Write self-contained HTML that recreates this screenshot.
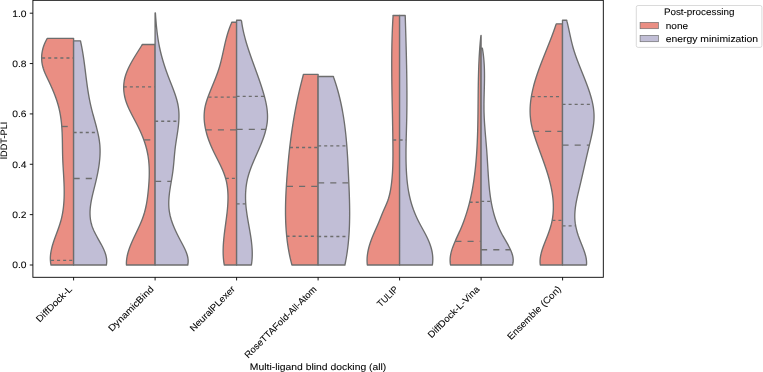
<!DOCTYPE html>
<html><head><meta charset="utf-8"><style>
html,body{margin:0;padding:0;background:#fff;}
svg{display:block;}
</style></head><body>
<svg width="763" height="372" viewBox="0 0 763 372">
<rect x="0" y="0" width="763" height="372" fill="#fff"/>
<path d="M73.60,38.30 L47.30,38.30 L46.76,39.30 L46.22,40.30 L45.71,41.30 L45.23,42.30 L44.78,43.30 L44.36,44.30 L43.97,45.30 L43.61,46.30 L43.28,47.30 L42.99,48.30 L42.72,49.30 L42.48,50.30 L42.27,51.30 L42.09,52.30 L41.94,53.30 L41.82,54.30 L41.73,55.30 L41.67,56.30 L41.64,57.30 L41.64,58.30 L41.67,59.30 L41.73,60.30 L41.81,61.30 L41.93,62.30 L42.08,63.30 L42.25,64.30 L42.45,65.30 L42.69,66.30 L42.94,67.30 L43.23,68.30 L43.55,69.30 L43.89,70.30 L44.26,71.30 L44.65,72.30 L45.07,73.30 L45.50,74.30 L45.96,75.30 L46.42,76.30 L46.89,77.30 L47.37,78.30 L47.85,79.30 L48.33,80.30 L48.81,81.30 L49.28,82.30 L49.75,83.30 L50.21,84.30 L50.67,85.30 L51.12,86.30 L51.57,87.30 L52.01,88.30 L52.44,89.30 L52.86,90.30 L53.28,91.30 L53.69,92.30 L54.10,93.30 L54.49,94.30 L54.88,95.30 L55.25,96.30 L55.62,97.30 L55.98,98.30 L56.33,99.30 L56.67,100.30 L57.00,101.30 L57.32,102.30 L57.63,103.30 L57.92,104.30 L58.21,105.30 L58.48,106.30 L58.75,107.30 L59.00,108.30 L59.24,109.30 L59.46,110.30 L59.68,111.30 L59.88,112.30 L60.07,113.30 L60.26,114.30 L60.43,115.30 L60.59,116.30 L60.74,117.30 L60.89,118.30 L61.02,119.30 L61.15,120.30 L61.27,121.30 L61.38,122.30 L61.48,123.30 L61.58,124.30 L61.66,125.30 L61.75,126.30 L61.82,127.30 L61.89,128.30 L61.95,129.30 L62.01,130.30 L62.06,131.30 L62.11,132.30 L62.16,133.30 L62.20,134.30 L62.23,135.30 L62.26,136.30 L62.29,137.30 L62.32,138.30 L62.34,139.30 L62.36,140.30 L62.38,141.30 L62.40,142.30 L62.42,143.30 L62.43,144.30 L62.45,145.30 L62.46,146.30 L62.47,147.30 L62.49,148.30 L62.50,149.30 L62.52,150.30 L62.54,151.30 L62.55,152.30 L62.57,153.30 L62.60,154.30 L62.62,155.30 L62.65,156.30 L62.68,157.30 L62.71,158.30 L62.75,159.30 L62.79,160.30 L62.84,161.30 L62.88,162.30 L62.93,163.30 L62.98,164.30 L63.04,165.30 L63.09,166.30 L63.15,167.30 L63.21,168.30 L63.26,169.30 L63.32,170.30 L63.38,171.30 L63.44,172.30 L63.50,173.30 L63.56,174.30 L63.62,175.30 L63.67,176.30 L63.73,177.30 L63.78,178.30 L63.83,179.30 L63.88,180.30 L63.93,181.30 L63.97,182.30 L64.02,183.30 L64.05,184.30 L64.09,185.30 L64.12,186.30 L64.15,187.30 L64.17,188.30 L64.19,189.30 L64.20,190.30 L64.21,191.30 L64.21,192.30 L64.21,193.30 L64.20,194.30 L64.18,195.30 L64.16,196.30 L64.13,197.30 L64.10,198.30 L64.05,199.30 L64.00,200.30 L63.95,201.30 L63.88,202.30 L63.81,203.30 L63.72,204.30 L63.63,205.30 L63.53,206.30 L63.42,207.30 L63.30,208.30 L63.17,209.30 L63.02,210.30 L62.87,211.30 L62.71,212.30 L62.54,213.30 L62.35,214.30 L62.16,215.30 L61.95,216.30 L61.73,217.30 L61.49,218.30 L61.25,219.30 L60.99,220.30 L60.72,221.30 L60.43,222.30 L60.13,223.30 L59.82,224.30 L59.50,225.30 L59.16,226.30 L58.82,227.30 L58.47,228.30 L58.12,229.30 L57.75,230.30 L57.39,231.30 L57.02,232.30 L56.65,233.30 L56.28,234.30 L55.91,235.30 L55.54,236.30 L55.17,237.30 L54.81,238.30 L54.45,239.30 L54.11,240.30 L53.76,241.30 L53.43,242.30 L53.11,243.30 L52.80,244.30 L52.50,245.30 L52.22,246.30 L51.95,247.30 L51.70,248.30 L51.47,249.30 L51.25,250.30 L51.06,251.30 L50.88,252.30 L50.73,253.30 L50.60,254.30 L50.50,255.30 L50.42,256.30 L50.37,257.30 L50.35,258.30 L50.36,259.30 L50.40,260.30 L50.47,261.30 L50.57,262.30 L50.71,263.30 L50.89,264.30 L51.03,265.00 L73.60,265.00 Z" fill="#EA8E83" stroke="#6d6d6d" stroke-width="1.35" stroke-linejoin="round"/>
<line x1="42.11" y1="58.00" x2="73.60" y2="58.00" stroke="#6d6d6d" stroke-width="1.35" stroke-dasharray="3.04,3.04"/>
<line x1="61.66" y1="126.50" x2="73.60" y2="126.50" stroke="#6d6d6d" stroke-width="1.35" stroke-dasharray="6.08,6.08"/>
<line x1="50.98" y1="260.40" x2="73.60" y2="260.40" stroke="#6d6d6d" stroke-width="1.35" stroke-dasharray="3.04,3.04"/>

<path d="M73.60,40.80 L80.40,40.80 L80.68,41.80 L80.90,42.80 L81.11,43.80 L81.32,44.80 L81.52,45.80 L81.72,46.80 L81.91,47.80 L82.09,48.80 L82.27,49.80 L82.45,50.80 L82.62,51.80 L82.79,52.80 L82.95,53.80 L83.11,54.80 L83.27,55.80 L83.42,56.80 L83.57,57.80 L83.71,58.80 L83.86,59.80 L84.00,60.80 L84.14,61.80 L84.27,62.80 L84.41,63.80 L84.54,64.80 L84.67,65.80 L84.80,66.80 L84.92,67.80 L85.05,68.80 L85.18,69.80 L85.30,70.80 L85.43,71.80 L85.55,72.80 L85.67,73.80 L85.80,74.80 L85.92,75.80 L86.05,76.80 L86.17,77.80 L86.30,78.80 L86.43,79.80 L86.56,80.80 L86.69,81.80 L86.82,82.80 L86.96,83.80 L87.09,84.80 L87.23,85.80 L87.38,86.80 L87.52,87.80 L87.67,88.80 L87.82,89.80 L87.97,90.80 L88.13,91.80 L88.29,92.80 L88.46,93.80 L88.63,94.80 L88.80,95.80 L88.98,96.80 L89.16,97.80 L89.35,98.80 L89.55,99.80 L89.74,100.80 L89.95,101.80 L90.16,102.80 L90.38,103.80 L90.60,104.80 L90.83,105.80 L91.06,106.80 L91.30,107.80 L91.54,108.80 L91.79,109.80 L92.05,110.80 L92.31,111.80 L92.57,112.80 L92.83,113.80 L93.10,114.80 L93.37,115.80 L93.64,116.80 L93.92,117.80 L94.19,118.80 L94.47,119.80 L94.75,120.80 L95.02,121.80 L95.30,122.80 L95.57,123.80 L95.84,124.80 L96.11,125.80 L96.38,126.80 L96.64,127.80 L96.89,128.80 L97.14,129.80 L97.39,130.80 L97.63,131.80 L97.86,132.80 L98.08,133.80 L98.29,134.80 L98.50,135.80 L98.69,136.80 L98.88,137.80 L99.05,138.80 L99.21,139.80 L99.36,140.80 L99.49,141.80 L99.61,142.80 L99.72,143.80 L99.81,144.80 L99.89,145.80 L99.95,146.80 L100.00,147.80 L100.04,148.80 L100.07,149.80 L100.08,150.80 L100.08,151.80 L100.07,152.80 L100.04,153.80 L100.01,154.80 L99.96,155.80 L99.90,156.80 L99.83,157.80 L99.76,158.80 L99.67,159.80 L99.57,160.80 L99.46,161.80 L99.34,162.80 L99.22,163.80 L99.08,164.80 L98.94,165.80 L98.79,166.80 L98.63,167.80 L98.47,168.80 L98.29,169.80 L98.11,170.80 L97.93,171.80 L97.73,172.80 L97.53,173.80 L97.33,174.80 L97.12,175.80 L96.90,176.80 L96.68,177.80 L96.46,178.80 L96.23,179.80 L96.00,180.80 L95.76,181.80 L95.52,182.80 L95.28,183.80 L95.03,184.80 L94.78,185.80 L94.53,186.80 L94.28,187.80 L94.03,188.80 L93.78,189.80 L93.53,190.80 L93.28,191.80 L93.04,192.80 L92.79,193.80 L92.56,194.80 L92.33,195.80 L92.10,196.80 L91.89,197.80 L91.68,198.80 L91.47,199.80 L91.28,200.80 L91.10,201.80 L90.93,202.80 L90.77,203.80 L90.63,204.80 L90.50,205.80 L90.38,206.80 L90.28,207.80 L90.19,208.80 L90.12,209.80 L90.07,210.80 L90.03,211.80 L90.02,212.80 L90.02,213.80 L90.05,214.80 L90.10,215.80 L90.16,216.80 L90.26,217.80 L90.37,218.80 L90.52,219.80 L90.68,220.80 L90.88,221.80 L91.10,222.80 L91.35,223.80 L91.63,224.80 L91.93,225.80 L92.27,226.80 L92.64,227.80 L93.04,228.80 L93.46,229.80 L93.91,230.80 L94.39,231.80 L94.88,232.80 L95.39,233.80 L95.91,234.80 L96.45,235.80 L96.99,236.80 L97.55,237.80 L98.11,238.80 L98.67,239.80 L99.23,240.80 L99.79,241.80 L100.34,242.80 L100.89,243.80 L101.43,244.80 L101.95,245.80 L102.47,246.80 L102.96,247.80 L103.43,248.80 L103.89,249.80 L104.32,250.80 L104.72,251.80 L105.09,252.80 L105.43,253.80 L105.74,254.80 L106.01,255.80 L106.24,256.80 L106.43,257.80 L106.57,258.80 L106.67,259.80 L106.73,260.80 L106.72,261.80 L106.67,262.80 L106.56,263.80 L106.39,264.80 L106.35,265.00 L73.60,265.00 Z" fill="#C1BED6" stroke="#6d6d6d" stroke-width="1.35" stroke-linejoin="round"/>
<line x1="73.60" y1="132.50" x2="97.46" y2="132.50" stroke="#6d6d6d" stroke-width="1.35" stroke-dasharray="3.04,3.04"/>
<line x1="73.60" y1="178.50" x2="96.55" y2="178.50" stroke="#6d6d6d" stroke-width="1.35" stroke-dasharray="6.08,6.08"/>

<path d="M155.10,44.50 L142.40,44.50 L141.72,45.50 L141.10,46.50 L140.47,47.50 L139.84,48.50 L139.20,49.50 L138.57,50.50 L137.94,51.50 L137.31,52.50 L136.68,53.50 L136.06,54.50 L135.44,55.50 L134.82,56.50 L134.22,57.50 L133.62,58.50 L133.03,59.50 L132.45,60.50 L131.88,61.50 L131.32,62.50 L130.77,63.50 L130.24,64.50 L129.72,65.50 L129.22,66.50 L128.73,67.50 L128.26,68.50 L127.81,69.50 L127.38,70.50 L126.97,71.50 L126.58,72.50 L126.21,73.50 L125.86,74.50 L125.54,75.50 L125.24,76.50 L124.97,77.50 L124.72,78.50 L124.50,79.50 L124.31,80.50 L124.15,81.50 L124.01,82.50 L123.89,83.50 L123.80,84.50 L123.74,85.50 L123.70,86.50 L123.69,87.50 L123.70,88.50 L123.74,89.50 L123.80,90.50 L123.88,91.50 L123.99,92.50 L124.13,93.50 L124.28,94.50 L124.46,95.50 L124.67,96.50 L124.90,97.50 L125.15,98.50 L125.42,99.50 L125.71,100.50 L126.03,101.50 L126.37,102.50 L126.73,103.50 L127.11,104.50 L127.51,105.50 L127.93,106.50 L128.37,107.50 L128.81,108.50 L129.28,109.50 L129.75,110.50 L130.24,111.50 L130.74,112.50 L131.24,113.50 L131.75,114.50 L132.27,115.50 L132.79,116.50 L133.32,117.50 L133.85,118.50 L134.38,119.50 L134.91,120.50 L135.44,121.50 L135.96,122.50 L136.48,123.50 L137.00,124.50 L137.51,125.50 L138.01,126.50 L138.50,127.50 L138.98,128.50 L139.46,129.50 L139.92,130.50 L140.38,131.50 L140.82,132.50 L141.26,133.50 L141.69,134.50 L142.10,135.50 L142.51,136.50 L142.90,137.50 L143.28,138.50 L143.66,139.50 L144.02,140.50 L144.37,141.50 L144.70,142.50 L145.03,143.50 L145.34,144.50 L145.65,145.50 L145.94,146.50 L146.21,147.50 L146.48,148.50 L146.73,149.50 L146.97,150.50 L147.19,151.50 L147.40,152.50 L147.60,153.50 L147.79,154.50 L147.96,155.50 L148.13,156.50 L148.28,157.50 L148.41,158.50 L148.54,159.50 L148.66,160.50 L148.76,161.50 L148.86,162.50 L148.94,163.50 L149.02,164.50 L149.08,165.50 L149.14,166.50 L149.19,167.50 L149.22,168.50 L149.25,169.50 L149.27,170.50 L149.28,171.50 L149.29,172.50 L149.28,173.50 L149.27,174.50 L149.25,175.50 L149.23,176.50 L149.20,177.50 L149.16,178.50 L149.11,179.50 L149.06,180.50 L149.00,181.50 L148.94,182.50 L148.87,183.50 L148.80,184.50 L148.72,185.50 L148.64,186.50 L148.56,187.50 L148.47,188.50 L148.37,189.50 L148.28,190.50 L148.17,191.50 L148.07,192.50 L147.96,193.50 L147.85,194.50 L147.73,195.50 L147.61,196.50 L147.48,197.50 L147.34,198.50 L147.20,199.50 L147.04,200.50 L146.89,201.50 L146.72,202.50 L146.54,203.50 L146.36,204.50 L146.16,205.50 L145.95,206.50 L145.74,207.50 L145.51,208.50 L145.27,209.50 L145.02,210.50 L144.75,211.50 L144.48,212.50 L144.18,213.50 L143.88,214.50 L143.56,215.50 L143.22,216.50 L142.87,217.50 L142.51,218.50 L142.13,219.50 L141.74,220.50 L141.33,221.50 L140.91,222.50 L140.48,223.50 L140.05,224.50 L139.60,225.50 L139.15,226.50 L138.69,227.50 L138.22,228.50 L137.75,229.50 L137.28,230.50 L136.80,231.50 L136.32,232.50 L135.85,233.50 L135.37,234.50 L134.89,235.50 L134.42,236.50 L133.95,237.50 L133.49,238.50 L133.03,239.50 L132.58,240.50 L132.13,241.50 L131.70,242.50 L131.27,243.50 L130.86,244.50 L130.46,245.50 L130.07,246.50 L129.69,247.50 L129.33,248.50 L128.99,249.50 L128.66,250.50 L128.35,251.50 L128.06,252.50 L127.79,253.50 L127.54,254.50 L127.31,255.50 L127.10,256.50 L126.92,257.50 L126.77,258.50 L126.64,259.50 L126.53,260.50 L126.46,261.50 L126.41,262.50 L126.40,263.50 L126.42,264.50 L126.44,265.00 L155.10,265.00 Z" fill="#EA8E83" stroke="#6d6d6d" stroke-width="1.35" stroke-linejoin="round"/>
<line x1="123.76" y1="86.80" x2="155.10" y2="86.80" stroke="#6d6d6d" stroke-width="1.35" stroke-dasharray="3.04,3.04"/>
<line x1="144.21" y1="139.90" x2="155.10" y2="139.90" stroke="#6d6d6d" stroke-width="1.35" stroke-dasharray="6.08,6.08"/>

<path d="M155.10,13.00 L155.40,13.00 L155.46,14.00 L155.53,15.00 L155.60,16.00 L155.67,17.00 L155.74,18.00 L155.82,19.00 L155.90,20.00 L155.98,21.00 L156.06,22.00 L156.14,23.00 L156.23,24.00 L156.32,25.00 L156.42,26.00 L156.52,27.00 L156.62,28.00 L156.73,29.00 L156.84,30.00 L156.95,31.00 L157.07,32.00 L157.19,33.00 L157.32,34.00 L157.45,35.00 L157.59,36.00 L157.73,37.00 L157.88,38.00 L158.03,39.00 L158.19,40.00 L158.35,41.00 L158.53,42.00 L158.70,43.00 L158.88,44.00 L159.07,45.00 L159.27,46.00 L159.47,47.00 L159.68,48.00 L159.90,49.00 L160.12,50.00 L160.35,51.00 L160.59,52.00 L160.83,53.00 L161.08,54.00 L161.34,55.00 L161.60,56.00 L161.87,57.00 L162.15,58.00 L162.43,59.00 L162.72,60.00 L163.01,61.00 L163.31,62.00 L163.62,63.00 L163.93,64.00 L164.24,65.00 L164.57,66.00 L164.89,67.00 L165.23,68.00 L165.57,69.00 L165.91,70.00 L166.26,71.00 L166.62,72.00 L166.98,73.00 L167.34,74.00 L167.71,75.00 L168.08,76.00 L168.46,77.00 L168.85,78.00 L169.23,79.00 L169.62,80.00 L170.02,81.00 L170.41,82.00 L170.81,83.00 L171.20,84.00 L171.60,85.00 L171.99,86.00 L172.38,87.00 L172.76,88.00 L173.15,89.00 L173.52,90.00 L173.89,91.00 L174.26,92.00 L174.61,93.00 L174.96,94.00 L175.30,95.00 L175.63,96.00 L175.95,97.00 L176.25,98.00 L176.55,99.00 L176.83,100.00 L177.09,101.00 L177.34,102.00 L177.58,103.00 L177.80,104.00 L178.00,105.00 L178.18,106.00 L178.34,107.00 L178.48,108.00 L178.61,109.00 L178.71,110.00 L178.80,111.00 L178.87,112.00 L178.92,113.00 L178.96,114.00 L178.98,115.00 L178.98,116.00 L178.98,117.00 L178.96,118.00 L178.92,119.00 L178.87,120.00 L178.82,121.00 L178.75,122.00 L178.67,123.00 L178.58,124.00 L178.48,125.00 L178.37,126.00 L178.26,127.00 L178.13,128.00 L178.01,129.00 L177.87,130.00 L177.73,131.00 L177.59,132.00 L177.44,133.00 L177.29,134.00 L177.13,135.00 L176.98,136.00 L176.82,137.00 L176.66,138.00 L176.50,139.00 L176.35,140.00 L176.19,141.00 L176.04,142.00 L175.89,143.00 L175.74,144.00 L175.60,145.00 L175.46,146.00 L175.33,147.00 L175.21,148.00 L175.09,149.00 L174.98,150.00 L174.87,151.00 L174.77,152.00 L174.67,153.00 L174.57,154.00 L174.48,155.00 L174.39,156.00 L174.30,157.00 L174.21,158.00 L174.13,159.00 L174.04,160.00 L173.95,161.00 L173.86,162.00 L173.77,163.00 L173.68,164.00 L173.58,165.00 L173.48,166.00 L173.38,167.00 L173.27,168.00 L173.16,169.00 L173.04,170.00 L172.91,171.00 L172.78,172.00 L172.64,173.00 L172.49,174.00 L172.34,175.00 L172.18,176.00 L172.02,177.00 L171.85,178.00 L171.69,179.00 L171.52,180.00 L171.35,181.00 L171.18,182.00 L171.01,183.00 L170.84,184.00 L170.67,185.00 L170.50,186.00 L170.34,187.00 L170.18,188.00 L170.03,189.00 L169.88,190.00 L169.74,191.00 L169.60,192.00 L169.47,193.00 L169.35,194.00 L169.24,195.00 L169.14,196.00 L169.05,197.00 L168.97,198.00 L168.90,199.00 L168.84,200.00 L168.80,201.00 L168.77,202.00 L168.76,203.00 L168.76,204.00 L168.78,205.00 L168.81,206.00 L168.86,207.00 L168.93,208.00 L169.02,209.00 L169.13,210.00 L169.26,211.00 L169.41,212.00 L169.58,213.00 L169.78,214.00 L169.99,215.00 L170.22,216.00 L170.48,217.00 L170.75,218.00 L171.04,219.00 L171.34,220.00 L171.67,221.00 L172.01,222.00 L172.36,223.00 L172.73,224.00 L173.12,225.00 L173.52,226.00 L173.93,227.00 L174.35,228.00 L174.79,229.00 L175.24,230.00 L175.69,231.00 L176.16,232.00 L176.64,233.00 L177.12,234.00 L177.62,235.00 L178.12,236.00 L178.63,237.00 L179.14,238.00 L179.66,239.00 L180.19,240.00 L180.71,241.00 L181.25,242.00 L181.78,243.00 L182.31,244.00 L182.84,245.00 L183.36,246.00 L183.86,247.00 L184.36,248.00 L184.84,249.00 L185.29,250.00 L185.73,251.00 L186.13,252.00 L186.51,253.00 L186.86,254.00 L187.18,255.00 L187.45,256.00 L187.69,257.00 L187.88,258.00 L188.02,259.00 L188.12,260.00 L188.16,261.00 L188.14,262.00 L188.07,263.00 L187.94,264.00 L187.74,265.00 L155.10,265.00 Z" fill="#C1BED6" stroke="#6d6d6d" stroke-width="1.35" stroke-linejoin="round"/>
<line x1="155.10" y1="121.20" x2="178.60" y2="121.20" stroke="#6d6d6d" stroke-width="1.35" stroke-dasharray="3.04,3.04"/>
<line x1="155.10" y1="181.40" x2="170.97" y2="181.40" stroke="#6d6d6d" stroke-width="1.35" stroke-dasharray="6.08,6.08"/>

<path d="M236.60,22.20 L231.70,22.20 L231.41,23.20 L230.98,24.20 L230.57,25.20 L230.17,26.20 L229.79,27.20 L229.42,28.20 L229.06,29.20 L228.71,30.20 L228.38,31.20 L228.06,32.20 L227.75,33.20 L227.45,34.20 L227.16,35.20 L226.88,36.20 L226.61,37.20 L226.34,38.20 L226.08,39.20 L225.83,40.20 L225.58,41.20 L225.34,42.20 L225.11,43.20 L224.88,44.20 L224.65,45.20 L224.43,46.20 L224.20,47.20 L223.98,48.20 L223.77,49.20 L223.55,50.20 L223.33,51.20 L223.11,52.20 L222.89,53.20 L222.67,54.20 L222.45,55.20 L222.22,56.20 L221.99,57.20 L221.75,58.20 L221.52,59.20 L221.27,60.20 L221.02,61.20 L220.77,62.20 L220.50,63.20 L220.23,64.20 L219.95,65.20 L219.66,66.20 L219.37,67.20 L219.06,68.20 L218.74,69.20 L218.41,70.20 L218.07,71.20 L217.73,72.20 L217.37,73.20 L217.01,74.20 L216.63,75.20 L216.25,76.20 L215.87,77.20 L215.48,78.20 L215.09,79.20 L214.69,80.20 L214.28,81.20 L213.88,82.20 L213.47,83.20 L213.06,84.20 L212.65,85.20 L212.24,86.20 L211.83,87.20 L211.43,88.20 L211.02,89.20 L210.62,90.20 L210.22,91.20 L209.82,92.20 L209.43,93.20 L209.04,94.20 L208.66,95.20 L208.28,96.20 L207.92,97.20 L207.56,98.20 L207.21,99.20 L206.88,100.20 L206.56,101.20 L206.26,102.20 L205.97,103.20 L205.70,104.20 L205.45,105.20 L205.23,106.20 L205.02,107.20 L204.84,108.20 L204.68,109.20 L204.54,110.20 L204.42,111.20 L204.33,112.20 L204.25,113.20 L204.19,114.20 L204.16,115.20 L204.14,116.20 L204.14,117.20 L204.16,118.20 L204.20,119.20 L204.26,120.20 L204.34,121.20 L204.43,122.20 L204.54,123.20 L204.67,124.20 L204.81,125.20 L204.97,126.20 L205.15,127.20 L205.34,128.20 L205.55,129.20 L205.78,130.20 L206.02,131.20 L206.27,132.20 L206.54,133.20 L206.82,134.20 L207.11,135.20 L207.42,136.20 L207.74,137.20 L208.08,138.20 L208.42,139.20 L208.78,140.20 L209.15,141.20 L209.54,142.20 L209.93,143.20 L210.33,144.20 L210.75,145.20 L211.17,146.20 L211.61,147.20 L212.05,148.20 L212.50,149.20 L212.97,150.20 L213.44,151.20 L213.92,152.20 L214.41,153.20 L214.90,154.20 L215.40,155.20 L215.90,156.20 L216.40,157.20 L216.91,158.20 L217.42,159.20 L217.92,160.20 L218.43,161.20 L218.93,162.20 L219.42,163.20 L219.92,164.20 L220.40,165.20 L220.88,166.20 L221.34,167.20 L221.80,168.20 L222.25,169.20 L222.68,170.20 L223.10,171.20 L223.50,172.20 L223.89,173.20 L224.26,174.20 L224.61,175.20 L224.95,176.20 L225.26,177.20 L225.55,178.20 L225.83,179.20 L226.08,180.20 L226.32,181.20 L226.54,182.20 L226.74,183.20 L226.92,184.20 L227.09,185.20 L227.24,186.20 L227.38,187.20 L227.50,188.20 L227.61,189.20 L227.70,190.20 L227.78,191.20 L227.85,192.20 L227.91,193.20 L227.95,194.20 L227.98,195.20 L228.00,196.20 L228.01,197.20 L228.01,198.20 L227.99,199.20 L227.97,200.20 L227.94,201.20 L227.90,202.20 L227.86,203.20 L227.80,204.20 L227.74,205.20 L227.67,206.20 L227.59,207.20 L227.51,208.20 L227.42,209.20 L227.32,210.20 L227.22,211.20 L227.12,212.20 L227.01,213.20 L226.89,214.20 L226.77,215.20 L226.65,216.20 L226.53,217.20 L226.40,218.20 L226.27,219.20 L226.14,220.20 L226.00,221.20 L225.87,222.20 L225.73,223.20 L225.60,224.20 L225.46,225.20 L225.33,226.20 L225.19,227.20 L225.06,228.20 L224.92,229.20 L224.79,230.20 L224.67,231.20 L224.54,232.20 L224.42,233.20 L224.30,234.20 L224.18,235.20 L224.07,236.20 L223.96,237.20 L223.86,238.20 L223.76,239.20 L223.67,240.20 L223.59,241.20 L223.51,242.20 L223.43,243.20 L223.37,244.20 L223.31,245.20 L223.26,246.20 L223.22,247.20 L223.19,248.20 L223.16,249.20 L223.15,250.20 L223.14,251.20 L223.15,252.20 L223.16,253.20 L223.19,254.20 L223.23,255.20 L223.28,256.20 L223.34,257.20 L223.41,258.20 L223.50,259.20 L223.60,260.20 L223.71,261.20 L223.84,262.20 L223.98,263.20 L224.14,264.20 L224.27,265.00 L236.60,265.00 Z" fill="#EA8E83" stroke="#6d6d6d" stroke-width="1.35" stroke-linejoin="round"/>
<line x1="208.51" y1="97.15" x2="236.60" y2="97.15" stroke="#6d6d6d" stroke-width="1.35" stroke-dasharray="3.04,3.04"/>
<line x1="205.73" y1="129.90" x2="236.60" y2="129.90" stroke="#6d6d6d" stroke-width="1.35" stroke-dasharray="6.08,6.08"/>
<line x1="225.80" y1="178.40" x2="236.60" y2="178.40" stroke="#6d6d6d" stroke-width="1.35" stroke-dasharray="3.04,3.04"/>

<path d="M236.60,20.20 L240.90,20.20 L241.55,21.20 L241.68,22.20 L241.83,23.20 L241.98,24.20 L242.15,25.20 L242.32,26.20 L242.50,27.20 L242.69,28.20 L242.89,29.20 L243.10,30.20 L243.32,31.20 L243.54,32.20 L243.77,33.20 L244.01,34.20 L244.26,35.20 L244.52,36.20 L244.78,37.20 L245.04,38.20 L245.32,39.20 L245.60,40.20 L245.88,41.20 L246.18,42.20 L246.47,43.20 L246.78,44.20 L247.08,45.20 L247.40,46.20 L247.71,47.20 L248.04,48.20 L248.36,49.20 L248.69,50.20 L249.03,51.20 L249.36,52.20 L249.71,53.20 L250.05,54.20 L250.40,55.20 L250.75,56.20 L251.10,57.20 L251.45,58.20 L251.81,59.20 L252.17,60.20 L252.52,61.20 L252.89,62.20 L253.25,63.20 L253.61,64.20 L253.97,65.20 L254.34,66.20 L254.70,67.20 L255.07,68.20 L255.43,69.20 L255.79,70.20 L256.16,71.20 L256.52,72.20 L256.88,73.20 L257.24,74.20 L257.60,75.20 L257.95,76.20 L258.31,77.20 L258.66,78.20 L259.01,79.20 L259.35,80.20 L259.70,81.20 L260.04,82.20 L260.38,83.20 L260.71,84.20 L261.04,85.20 L261.37,86.20 L261.69,87.20 L262.01,88.20 L262.32,89.20 L262.63,90.20 L262.93,91.20 L263.23,92.20 L263.52,93.20 L263.81,94.20 L264.09,95.20 L264.36,96.20 L264.63,97.20 L264.88,98.20 L265.13,99.20 L265.37,100.20 L265.60,101.20 L265.82,102.20 L266.03,103.20 L266.23,104.20 L266.42,105.20 L266.59,106.20 L266.75,107.20 L266.90,108.20 L267.03,109.20 L267.15,110.20 L267.26,111.20 L267.34,112.20 L267.41,113.20 L267.47,114.20 L267.50,115.20 L267.52,116.20 L267.52,117.20 L267.50,118.20 L267.46,119.20 L267.40,120.20 L267.32,121.20 L267.22,122.20 L267.10,123.20 L266.96,124.20 L266.80,125.20 L266.62,126.20 L266.43,127.20 L266.21,128.20 L265.99,129.20 L265.74,130.20 L265.48,131.20 L265.21,132.20 L264.92,133.20 L264.62,134.20 L264.31,135.20 L263.98,136.20 L263.64,137.20 L263.29,138.20 L262.93,139.20 L262.56,140.20 L262.18,141.20 L261.80,142.20 L261.40,143.20 L261.00,144.20 L260.59,145.20 L260.17,146.20 L259.75,147.20 L259.32,148.20 L258.89,149.20 L258.45,150.20 L258.01,151.20 L257.57,152.20 L257.13,153.20 L256.69,154.20 L256.24,155.20 L255.80,156.20 L255.36,157.20 L254.92,158.20 L254.48,159.20 L254.05,160.20 L253.62,161.20 L253.20,162.20 L252.78,163.20 L252.37,164.20 L251.96,165.20 L251.56,166.20 L251.17,167.20 L250.79,168.20 L250.43,169.20 L250.07,170.20 L249.72,171.20 L249.38,172.20 L249.06,173.20 L248.75,174.20 L248.46,175.20 L248.18,176.20 L247.91,177.20 L247.66,178.20 L247.43,179.20 L247.21,180.20 L247.01,181.20 L246.82,182.20 L246.64,183.20 L246.48,184.20 L246.33,185.20 L246.20,186.20 L246.07,187.20 L245.97,188.20 L245.87,189.20 L245.79,190.20 L245.72,191.20 L245.66,192.20 L245.61,193.20 L245.57,194.20 L245.55,195.20 L245.54,196.20 L245.54,197.20 L245.54,198.20 L245.56,199.20 L245.59,200.20 L245.63,201.20 L245.68,202.20 L245.74,203.20 L245.81,204.20 L245.88,205.20 L245.97,206.20 L246.06,207.20 L246.16,208.20 L246.27,209.20 L246.39,210.20 L246.52,211.20 L246.65,212.20 L246.79,213.20 L246.93,214.20 L247.08,215.20 L247.24,216.20 L247.40,217.20 L247.56,218.20 L247.73,219.20 L247.90,220.20 L248.07,221.20 L248.24,222.20 L248.42,223.20 L248.60,224.20 L248.78,225.20 L248.96,226.20 L249.14,227.20 L249.31,228.20 L249.49,229.20 L249.67,230.20 L249.84,231.20 L250.01,232.20 L250.18,233.20 L250.35,234.20 L250.51,235.20 L250.67,236.20 L250.82,237.20 L250.97,238.20 L251.11,239.20 L251.25,240.20 L251.38,241.20 L251.50,242.20 L251.61,243.20 L251.72,244.20 L251.82,245.20 L251.91,246.20 L251.99,247.20 L252.06,248.20 L252.12,249.20 L252.17,250.20 L252.21,251.20 L252.24,252.20 L252.25,253.20 L252.25,254.20 L252.24,255.20 L252.22,256.20 L252.18,257.20 L252.13,258.20 L252.06,259.20 L251.98,260.20 L251.88,261.20 L251.77,262.20 L251.64,263.20 L251.49,264.20 L251.36,265.00 L236.60,265.00 Z" fill="#C1BED6" stroke="#6d6d6d" stroke-width="1.35" stroke-linejoin="round"/>
<line x1="236.60" y1="96.30" x2="264.09" y2="96.30" stroke="#6d6d6d" stroke-width="1.35" stroke-dasharray="3.04,3.04"/>
<line x1="236.60" y1="129.30" x2="266.07" y2="129.30" stroke="#6d6d6d" stroke-width="1.35" stroke-dasharray="6.08,6.08"/>
<line x1="236.60" y1="203.90" x2="246.06" y2="203.90" stroke="#6d6d6d" stroke-width="1.35" stroke-dasharray="3.04,3.04"/>

<path d="M318.10,74.30 L303.50,74.30 L303.21,75.30 L302.94,76.30 L302.68,77.30 L302.41,78.30 L302.15,79.30 L301.89,80.30 L301.63,81.30 L301.38,82.30 L301.13,83.30 L300.88,84.30 L300.63,85.30 L300.39,86.30 L300.15,87.30 L299.91,88.30 L299.67,89.30 L299.44,90.30 L299.21,91.30 L298.98,92.30 L298.75,93.30 L298.53,94.30 L298.30,95.30 L298.09,96.30 L297.87,97.30 L297.65,98.30 L297.44,99.30 L297.23,100.30 L297.02,101.30 L296.82,102.30 L296.62,103.30 L296.42,104.30 L296.22,105.30 L296.02,106.30 L295.83,107.30 L295.63,108.30 L295.45,109.30 L295.26,110.30 L295.07,111.30 L294.89,112.30 L294.71,113.30 L294.53,114.30 L294.35,115.30 L294.18,116.30 L294.01,117.30 L293.84,118.30 L293.67,119.30 L293.50,120.30 L293.34,121.30 L293.18,122.30 L293.02,123.30 L292.86,124.30 L292.70,125.30 L292.55,126.30 L292.39,127.30 L292.24,128.30 L292.10,129.30 L291.95,130.30 L291.81,131.30 L291.66,132.30 L291.52,133.30 L291.38,134.30 L291.25,135.30 L291.11,136.30 L290.98,137.30 L290.84,138.30 L290.71,139.30 L290.59,140.30 L290.46,141.30 L290.34,142.30 L290.21,143.30 L290.09,144.30 L289.97,145.30 L289.85,146.30 L289.74,147.30 L289.62,148.30 L289.51,149.30 L289.40,150.30 L289.29,151.30 L289.18,152.30 L289.07,153.30 L288.97,154.30 L288.86,155.30 L288.76,156.30 L288.66,157.30 L288.56,158.30 L288.47,159.30 L288.37,160.30 L288.28,161.30 L288.18,162.30 L288.09,163.30 L288.00,164.30 L287.91,165.30 L287.82,166.30 L287.74,167.30 L287.65,168.30 L287.57,169.30 L287.49,170.30 L287.41,171.30 L287.33,172.30 L287.25,173.30 L287.17,174.30 L287.10,175.30 L287.02,176.30 L286.95,177.30 L286.88,178.30 L286.81,179.30 L286.74,180.30 L286.67,181.30 L286.60,182.30 L286.54,183.30 L286.47,184.30 L286.41,185.30 L286.35,186.30 L286.29,187.30 L286.23,188.30 L286.17,189.30 L286.12,190.30 L286.06,191.30 L286.01,192.30 L285.96,193.30 L285.92,194.30 L285.87,195.30 L285.83,196.30 L285.79,197.30 L285.75,198.30 L285.72,199.30 L285.68,200.30 L285.65,201.30 L285.63,202.30 L285.60,203.30 L285.58,204.30 L285.56,205.30 L285.54,206.30 L285.53,207.30 L285.52,208.30 L285.51,209.30 L285.51,210.30 L285.50,211.30 L285.51,212.30 L285.51,213.30 L285.52,214.30 L285.53,215.30 L285.55,216.30 L285.57,217.30 L285.59,218.30 L285.62,219.30 L285.65,220.30 L285.68,221.30 L285.72,222.30 L285.76,223.30 L285.81,224.30 L285.86,225.30 L285.91,226.30 L285.97,227.30 L286.03,228.30 L286.10,229.30 L286.17,230.30 L286.25,231.30 L286.33,232.30 L286.42,233.30 L286.51,234.30 L286.60,235.30 L286.70,236.30 L286.81,237.30 L286.92,238.30 L287.03,239.30 L287.15,240.30 L287.28,241.30 L287.41,242.30 L287.55,243.30 L287.69,244.30 L287.83,245.30 L287.99,246.30 L288.15,247.30 L288.31,248.30 L288.48,249.30 L288.65,250.30 L288.84,251.30 L289.02,252.30 L289.22,253.30 L289.42,254.30 L289.62,255.30 L289.83,256.30 L290.05,257.30 L290.28,258.30 L290.51,259.30 L290.74,260.30 L290.99,261.30 L291.24,262.30 L291.49,263.30 L291.76,264.30 L291.95,265.00 L318.10,265.00 Z" fill="#EA8E83" stroke="#6d6d6d" stroke-width="1.35" stroke-linejoin="round"/>
<line x1="289.91" y1="147.50" x2="318.10" y2="147.50" stroke="#6d6d6d" stroke-width="1.35" stroke-dasharray="3.04,3.04"/>
<line x1="286.92" y1="186.30" x2="318.10" y2="186.30" stroke="#6d6d6d" stroke-width="1.35" stroke-dasharray="6.08,6.08"/>
<line x1="286.47" y1="236.20" x2="318.10" y2="236.20" stroke="#6d6d6d" stroke-width="1.35" stroke-dasharray="3.04,3.04"/>

<path d="M318.10,76.50 L333.40,76.50 L333.68,77.50 L334.03,78.50 L334.37,79.50 L334.71,80.50 L335.04,81.50 L335.37,82.50 L335.69,83.50 L336.01,84.50 L336.32,85.50 L336.62,86.50 L336.92,87.50 L337.21,88.50 L337.50,89.50 L337.78,90.50 L338.06,91.50 L338.33,92.50 L338.59,93.50 L338.86,94.50 L339.11,95.50 L339.36,96.50 L339.61,97.50 L339.85,98.50 L340.09,99.50 L340.32,100.50 L340.55,101.50 L340.77,102.50 L340.99,103.50 L341.20,104.50 L341.41,105.50 L341.61,106.50 L341.81,107.50 L342.01,108.50 L342.20,109.50 L342.39,110.50 L342.57,111.50 L342.75,112.50 L342.92,113.50 L343.09,114.50 L343.26,115.50 L343.43,116.50 L343.59,117.50 L343.74,118.50 L343.89,119.50 L344.04,120.50 L344.19,121.50 L344.33,122.50 L344.47,123.50 L344.60,124.50 L344.74,125.50 L344.86,126.50 L344.99,127.50 L345.11,128.50 L345.23,129.50 L345.35,130.50 L345.46,131.50 L345.57,132.50 L345.68,133.50 L345.79,134.50 L345.89,135.50 L345.99,136.50 L346.09,137.50 L346.18,138.50 L346.28,139.50 L346.37,140.50 L346.45,141.50 L346.54,142.50 L346.62,143.50 L346.70,144.50 L346.78,145.50 L346.86,146.50 L346.94,147.50 L347.01,148.50 L347.08,149.50 L347.15,150.50 L347.22,151.50 L347.29,152.50 L347.35,153.50 L347.42,154.50 L347.48,155.50 L347.54,156.50 L347.60,157.50 L347.66,158.50 L347.71,159.50 L347.77,160.50 L347.82,161.50 L347.88,162.50 L347.93,163.50 L347.98,164.50 L348.03,165.50 L348.08,166.50 L348.13,167.50 L348.18,168.50 L348.23,169.50 L348.27,170.50 L348.32,171.50 L348.37,172.50 L348.41,173.50 L348.46,174.50 L348.51,175.50 L348.55,176.50 L348.60,177.50 L348.64,178.50 L348.69,179.50 L348.73,180.50 L348.78,181.50 L348.82,182.50 L348.86,183.50 L348.91,184.50 L348.95,185.50 L348.99,186.50 L349.03,187.50 L349.07,188.50 L349.11,189.50 L349.15,190.50 L349.19,191.50 L349.23,192.50 L349.26,193.50 L349.30,194.50 L349.33,195.50 L349.36,196.50 L349.39,197.50 L349.42,198.50 L349.45,199.50 L349.48,200.50 L349.50,201.50 L349.52,202.50 L349.55,203.50 L349.57,204.50 L349.58,205.50 L349.60,206.50 L349.61,207.50 L349.63,208.50 L349.64,209.50 L349.64,210.50 L349.65,211.50 L349.65,212.50 L349.65,213.50 L349.65,214.50 L349.65,215.50 L349.64,216.50 L349.63,217.50 L349.62,218.50 L349.60,219.50 L349.58,220.50 L349.56,221.50 L349.54,222.50 L349.51,223.50 L349.48,224.50 L349.45,225.50 L349.41,226.50 L349.37,227.50 L349.33,228.50 L349.28,229.50 L349.24,230.50 L349.18,231.50 L349.12,232.50 L349.06,233.50 L349.00,234.50 L348.93,235.50 L348.86,236.50 L348.78,237.50 L348.70,238.50 L348.62,239.50 L348.53,240.50 L348.44,241.50 L348.34,242.50 L348.24,243.50 L348.14,244.50 L348.03,245.50 L347.91,246.50 L347.79,247.50 L347.67,248.50 L347.54,249.50 L347.41,250.50 L347.27,251.50 L347.13,252.50 L346.98,253.50 L346.82,254.50 L346.67,255.50 L346.50,256.50 L346.33,257.50 L346.16,258.50 L345.98,259.50 L345.80,260.50 L345.61,261.50 L345.41,262.50 L345.21,263.50 L345.00,264.50 L344.90,265.00 L318.10,265.00 Z" fill="#C1BED6" stroke="#6d6d6d" stroke-width="1.35" stroke-linejoin="round"/>
<line x1="318.10" y1="145.90" x2="346.83" y2="145.90" stroke="#6d6d6d" stroke-width="1.35" stroke-dasharray="3.04,3.04"/>
<line x1="318.10" y1="182.90" x2="348.14" y2="182.90" stroke="#6d6d6d" stroke-width="1.35" stroke-dasharray="6.08,6.08"/>
<line x1="318.10" y1="236.50" x2="348.89" y2="236.50" stroke="#6d6d6d" stroke-width="1.35" stroke-dasharray="3.04,3.04"/>

<path d="M399.60,15.50 L393.00,15.50 L393.05,16.50 L392.99,17.50 L392.93,18.50 L392.87,19.50 L392.81,20.50 L392.76,21.50 L392.70,22.50 L392.65,23.50 L392.60,24.50 L392.56,25.50 L392.51,26.50 L392.46,27.50 L392.42,28.50 L392.38,29.50 L392.34,30.50 L392.30,31.50 L392.26,32.50 L392.23,33.50 L392.19,34.50 L392.16,35.50 L392.13,36.50 L392.10,37.50 L392.07,38.50 L392.04,39.50 L392.01,40.50 L391.99,41.50 L391.96,42.50 L391.94,43.50 L391.92,44.50 L391.90,45.50 L391.88,46.50 L391.87,47.50 L391.85,48.50 L391.83,49.50 L391.82,50.50 L391.81,51.50 L391.79,52.50 L391.78,53.50 L391.77,54.50 L391.77,55.50 L391.76,56.50 L391.75,57.50 L391.75,58.50 L391.74,59.50 L391.74,60.50 L391.73,61.50 L391.73,62.50 L391.73,63.50 L391.73,64.50 L391.73,65.50 L391.73,66.50 L391.74,67.50 L391.74,68.50 L391.74,69.50 L391.75,70.50 L391.75,71.50 L391.76,72.50 L391.77,73.50 L391.77,74.50 L391.78,75.50 L391.79,76.50 L391.80,77.50 L391.81,78.50 L391.82,79.50 L391.83,80.50 L391.85,81.50 L391.86,82.50 L391.87,83.50 L391.88,84.50 L391.90,85.50 L391.91,86.50 L391.93,87.50 L391.94,88.50 L391.96,89.50 L391.98,90.50 L391.99,91.50 L392.01,92.50 L392.03,93.50 L392.04,94.50 L392.06,95.50 L392.08,96.50 L392.10,97.50 L392.12,98.50 L392.14,99.50 L392.15,100.50 L392.17,101.50 L392.19,102.50 L392.21,103.50 L392.23,104.50 L392.25,105.50 L392.27,106.50 L392.29,107.50 L392.31,108.50 L392.33,109.50 L392.35,110.50 L392.37,111.50 L392.39,112.50 L392.41,113.50 L392.43,114.50 L392.45,115.50 L392.47,116.50 L392.49,117.50 L392.51,118.50 L392.53,119.50 L392.55,120.50 L392.57,121.50 L392.59,122.50 L392.60,123.50 L392.62,124.50 L392.64,125.50 L392.66,126.50 L392.68,127.50 L392.69,128.50 L392.71,129.50 L392.73,130.50 L392.74,131.50 L392.76,132.50 L392.77,133.50 L392.79,134.50 L392.80,135.50 L392.82,136.50 L392.83,137.50 L392.84,138.50 L392.85,139.50 L392.87,140.50 L392.88,141.50 L392.89,142.50 L392.90,143.50 L392.91,144.50 L392.92,145.50 L392.92,146.50 L392.93,147.50 L392.94,148.50 L392.94,149.50 L392.95,150.50 L392.95,151.50 L392.96,152.50 L392.96,153.50 L392.96,154.50 L392.95,155.50 L392.95,156.50 L392.94,157.50 L392.93,158.50 L392.92,159.50 L392.91,160.50 L392.89,161.50 L392.87,162.50 L392.85,163.50 L392.82,164.50 L392.80,165.50 L392.76,166.50 L392.73,167.50 L392.68,168.50 L392.64,169.50 L392.59,170.50 L392.54,171.50 L392.48,172.50 L392.42,173.50 L392.35,174.50 L392.27,175.50 L392.20,176.50 L392.11,177.50 L392.02,178.50 L391.93,179.50 L391.82,180.50 L391.72,181.50 L391.60,182.50 L391.48,183.50 L391.36,184.50 L391.22,185.50 L391.08,186.50 L390.93,187.50 L390.78,188.50 L390.61,189.50 L390.43,190.50 L390.24,191.50 L390.04,192.50 L389.82,193.50 L389.59,194.50 L389.34,195.50 L389.07,196.50 L388.79,197.50 L388.49,198.50 L388.16,199.50 L387.82,200.50 L387.45,201.50 L387.06,202.50 L386.65,203.50 L386.23,204.50 L385.80,205.50 L385.36,206.50 L384.91,207.50 L384.46,208.50 L384.02,209.50 L383.58,210.50 L383.14,211.50 L382.72,212.50 L382.31,213.50 L381.90,214.50 L381.50,215.50 L381.10,216.50 L380.71,217.50 L380.31,218.50 L379.91,219.50 L379.51,220.50 L379.11,221.50 L378.69,222.50 L378.27,223.50 L377.84,224.50 L377.40,225.50 L376.96,226.50 L376.51,227.50 L376.07,228.50 L375.62,229.50 L375.17,230.50 L374.73,231.50 L374.29,232.50 L373.86,233.50 L373.43,234.50 L373.01,235.50 L372.59,236.50 L372.19,237.50 L371.80,238.50 L371.42,239.50 L371.05,240.50 L370.70,241.50 L370.35,242.50 L370.02,243.50 L369.71,244.50 L369.41,245.50 L369.12,246.50 L368.85,247.50 L368.60,248.50 L368.36,249.50 L368.15,250.50 L367.95,251.50 L367.77,252.50 L367.60,253.50 L367.46,254.50 L367.34,255.50 L367.24,256.50 L367.16,257.50 L367.11,258.50 L367.08,259.50 L367.07,260.50 L367.09,261.50 L367.13,262.50 L367.19,263.50 L367.28,264.50 L367.34,265.00 L399.60,265.00 Z" fill="#EA8E83" stroke="#6d6d6d" stroke-width="1.35" stroke-linejoin="round"/>
<line x1="393.17" y1="140.00" x2="399.60" y2="140.00" stroke="#6d6d6d" stroke-width="1.35" stroke-dasharray="3.04,3.04"/>

<path d="M399.60,15.50 L405.20,15.50 L405.25,16.50 L405.28,17.50 L405.31,18.50 L405.34,19.50 L405.37,20.50 L405.40,21.50 L405.43,22.50 L405.46,23.50 L405.49,24.50 L405.52,25.50 L405.55,26.50 L405.58,27.50 L405.61,28.50 L405.64,29.50 L405.66,30.50 L405.69,31.50 L405.72,32.50 L405.75,33.50 L405.78,34.50 L405.81,35.50 L405.84,36.50 L405.87,37.50 L405.90,38.50 L405.93,39.50 L405.95,40.50 L405.98,41.50 L406.01,42.50 L406.04,43.50 L406.07,44.50 L406.09,45.50 L406.12,46.50 L406.15,47.50 L406.17,48.50 L406.20,49.50 L406.23,50.50 L406.25,51.50 L406.28,52.50 L406.30,53.50 L406.33,54.50 L406.35,55.50 L406.38,56.50 L406.40,57.50 L406.42,58.50 L406.45,59.50 L406.47,60.50 L406.49,61.50 L406.51,62.50 L406.53,63.50 L406.55,64.50 L406.58,65.50 L406.60,66.50 L406.61,67.50 L406.63,68.50 L406.65,69.50 L406.67,70.50 L406.69,71.50 L406.71,72.50 L406.72,73.50 L406.74,74.50 L406.75,75.50 L406.77,76.50 L406.78,77.50 L406.80,78.50 L406.81,79.50 L406.82,80.50 L406.83,81.50 L406.84,82.50 L406.85,83.50 L406.86,84.50 L406.87,85.50 L406.88,86.50 L406.89,87.50 L406.90,88.50 L406.90,89.50 L406.91,90.50 L406.91,91.50 L406.92,92.50 L406.92,93.50 L406.92,94.50 L406.92,95.50 L406.92,96.50 L406.92,97.50 L406.92,98.50 L406.92,99.50 L406.92,100.50 L406.92,101.50 L406.91,102.50 L406.91,103.50 L406.90,104.50 L406.90,105.50 L406.89,106.50 L406.88,107.50 L406.87,108.50 L406.86,109.50 L406.85,110.50 L406.83,111.50 L406.82,112.50 L406.81,113.50 L406.79,114.50 L406.77,115.50 L406.76,116.50 L406.74,117.50 L406.72,118.50 L406.70,119.50 L406.68,120.50 L406.65,121.50 L406.63,122.50 L406.61,123.50 L406.58,124.50 L406.55,125.50 L406.53,126.50 L406.50,127.50 L406.47,128.50 L406.45,129.50 L406.42,130.50 L406.39,131.50 L406.36,132.50 L406.34,133.50 L406.31,134.50 L406.28,135.50 L406.26,136.50 L406.23,137.50 L406.21,138.50 L406.18,139.50 L406.16,140.50 L406.14,141.50 L406.11,142.50 L406.09,143.50 L406.08,144.50 L406.06,145.50 L406.04,146.50 L406.03,147.50 L406.01,148.50 L406.00,149.50 L405.99,150.50 L405.99,151.50 L405.98,152.50 L405.98,153.50 L405.98,154.50 L405.98,155.50 L405.98,156.50 L405.99,157.50 L406.00,158.50 L406.01,159.50 L406.03,160.50 L406.04,161.50 L406.07,162.50 L406.09,163.50 L406.12,164.50 L406.15,165.50 L406.18,166.50 L406.22,167.50 L406.26,168.50 L406.31,169.50 L406.35,170.50 L406.41,171.50 L406.46,172.50 L406.53,173.50 L406.59,174.50 L406.66,175.50 L406.74,176.50 L406.82,177.50 L406.90,178.50 L406.99,179.50 L407.09,180.50 L407.19,181.50 L407.30,182.50 L407.42,183.50 L407.54,184.50 L407.67,185.50 L407.80,186.50 L407.94,187.50 L408.10,188.50 L408.25,189.50 L408.42,190.50 L408.59,191.50 L408.78,192.50 L408.97,193.50 L409.17,194.50 L409.38,195.50 L409.60,196.50 L409.83,197.50 L410.07,198.50 L410.31,199.50 L410.57,200.50 L410.84,201.50 L411.12,202.50 L411.41,203.50 L411.71,204.50 L412.03,205.50 L412.35,206.50 L412.69,207.50 L413.04,208.50 L413.39,209.50 L413.77,210.50 L414.15,211.50 L414.54,212.50 L414.95,213.50 L415.37,214.50 L415.80,215.50 L416.24,216.50 L416.69,217.50 L417.16,218.50 L417.63,219.50 L418.12,220.50 L418.62,221.50 L419.13,222.50 L419.66,223.50 L420.19,224.50 L420.73,225.50 L421.27,226.50 L421.82,227.50 L422.37,228.50 L422.92,229.50 L423.47,230.50 L424.02,231.50 L424.56,232.50 L425.09,233.50 L425.62,234.50 L426.13,235.50 L426.63,236.50 L427.11,237.50 L427.58,238.50 L428.04,239.50 L428.48,240.50 L428.90,241.50 L429.31,242.50 L429.69,243.50 L430.06,244.50 L430.40,245.50 L430.73,246.50 L431.03,247.50 L431.32,248.50 L431.58,249.50 L431.81,250.50 L432.02,251.50 L432.21,252.50 L432.37,253.50 L432.50,254.50 L432.61,255.50 L432.69,256.50 L432.75,257.50 L432.78,258.50 L432.79,259.50 L432.77,260.50 L432.73,261.50 L432.66,262.50 L432.56,263.50 L432.45,264.50 L432.38,265.00 L399.60,265.00 Z" fill="#C1BED6" stroke="#6d6d6d" stroke-width="1.35" stroke-linejoin="round"/>
<line x1="399.60" y1="140.00" x2="406.20" y2="140.00" stroke="#6d6d6d" stroke-width="1.35" stroke-dasharray="3.04,3.04"/>

<path d="M481.10,35.40 L481.00,35.40 L480.83,36.40 L480.72,37.40 L480.62,38.40 L480.52,39.40 L480.43,40.40 L480.33,41.40 L480.24,42.40 L480.16,43.40 L480.07,44.40 L479.99,45.40 L479.91,46.40 L479.83,47.40 L479.76,48.40 L479.68,49.40 L479.61,50.40 L479.54,51.40 L479.48,52.40 L479.42,53.40 L479.35,54.40 L479.29,55.40 L479.24,56.40 L479.18,57.40 L479.13,58.40 L479.08,59.40 L479.03,60.40 L478.98,61.40 L478.94,62.40 L478.89,63.40 L478.85,64.40 L478.81,65.40 L478.77,66.40 L478.74,67.40 L478.70,68.40 L478.67,69.40 L478.63,70.40 L478.60,71.40 L478.57,72.40 L478.54,73.40 L478.52,74.40 L478.49,75.40 L478.47,76.40 L478.44,77.40 L478.42,78.40 L478.40,79.40 L478.38,80.40 L478.36,81.40 L478.34,82.40 L478.32,83.40 L478.31,84.40 L478.29,85.40 L478.28,86.40 L478.26,87.40 L478.25,88.40 L478.24,89.40 L478.22,90.40 L478.21,91.40 L478.20,92.40 L478.19,93.40 L478.18,94.40 L478.17,95.40 L478.16,96.40 L478.15,97.40 L478.14,98.40 L478.13,99.40 L478.12,100.40 L478.11,101.40 L478.10,102.40 L478.09,103.40 L478.08,104.40 L478.07,105.40 L478.06,106.40 L478.05,107.40 L478.04,108.40 L478.03,109.40 L478.02,110.40 L478.01,111.40 L478.00,112.40 L477.99,113.40 L477.98,114.40 L477.96,115.40 L477.95,116.40 L477.94,117.40 L477.92,118.40 L477.91,119.40 L477.89,120.40 L477.87,121.40 L477.86,122.40 L477.84,123.40 L477.82,124.40 L477.80,125.40 L477.78,126.40 L477.75,127.40 L477.73,128.40 L477.71,129.40 L477.68,130.40 L477.65,131.40 L477.62,132.40 L477.59,133.40 L477.56,134.40 L477.53,135.40 L477.49,136.40 L477.46,137.40 L477.42,138.40 L477.38,139.40 L477.34,140.40 L477.30,141.40 L477.26,142.40 L477.21,143.40 L477.16,144.40 L477.11,145.40 L477.06,146.40 L477.01,147.40 L476.95,148.40 L476.89,149.40 L476.83,150.40 L476.77,151.40 L476.71,152.40 L476.64,153.40 L476.57,154.40 L476.50,155.40 L476.43,156.40 L476.35,157.40 L476.28,158.40 L476.20,159.40 L476.11,160.40 L476.03,161.40 L475.94,162.40 L475.85,163.40 L475.75,164.40 L475.66,165.40 L475.56,166.40 L475.46,167.40 L475.35,168.40 L475.24,169.40 L475.13,170.40 L475.02,171.40 L474.90,172.40 L474.78,173.40 L474.66,174.40 L474.53,175.40 L474.40,176.40 L474.27,177.40 L474.13,178.40 L473.99,179.40 L473.85,180.40 L473.70,181.40 L473.55,182.40 L473.39,183.40 L473.23,184.40 L473.07,185.40 L472.90,186.40 L472.72,187.40 L472.55,188.40 L472.37,189.40 L472.18,190.40 L471.99,191.40 L471.79,192.40 L471.59,193.40 L471.39,194.40 L471.18,195.40 L470.96,196.40 L470.74,197.40 L470.52,198.40 L470.29,199.40 L470.05,200.40 L469.81,201.40 L469.56,202.40 L469.31,203.40 L469.05,204.40 L468.79,205.40 L468.52,206.40 L468.24,207.40 L467.96,208.40 L467.67,209.40 L467.38,210.40 L467.08,211.40 L466.77,212.40 L466.46,213.40 L466.14,214.40 L465.81,215.40 L465.48,216.40 L465.14,217.40 L464.79,218.40 L464.43,219.40 L464.07,220.40 L463.71,221.40 L463.33,222.40 L462.95,223.40 L462.56,224.40 L462.16,225.40 L461.76,226.40 L461.34,227.40 L460.92,228.40 L460.49,229.40 L460.06,230.40 L459.61,231.40 L459.16,232.40 L458.71,233.40 L458.25,234.40 L457.79,235.40 L457.33,236.40 L456.87,237.40 L456.41,238.40 L455.96,239.40 L455.52,240.40 L455.08,241.40 L454.64,242.40 L454.22,243.40 L453.82,244.40 L453.42,245.40 L453.04,246.40 L452.67,247.40 L452.33,248.40 L452.00,249.40 L451.69,250.40 L451.41,251.40 L451.15,252.40 L450.92,253.40 L450.71,254.40 L450.53,255.40 L450.38,256.40 L450.26,257.40 L450.18,258.40 L450.13,259.40 L450.11,260.40 L450.14,261.40 L450.20,262.40 L450.30,263.40 L450.45,264.40 L450.56,265.00 L481.10,265.00 Z" fill="#EA8E83" stroke="#6d6d6d" stroke-width="1.35" stroke-linejoin="round"/>
<line x1="469.62" y1="202.20" x2="481.10" y2="202.20" stroke="#6d6d6d" stroke-width="1.35" stroke-dasharray="3.04,3.04"/>
<line x1="455.37" y1="241.30" x2="481.10" y2="241.30" stroke="#6d6d6d" stroke-width="1.35" stroke-dasharray="6.08,6.08"/>

<path d="M481.10,48.20 L482.40,48.20 L482.49,49.20 L482.66,50.20 L482.83,51.20 L482.98,52.20 L483.12,53.20 L483.26,54.20 L483.38,55.20 L483.50,56.20 L483.61,57.20 L483.72,58.20 L483.81,59.20 L483.90,60.20 L483.98,61.20 L484.05,62.20 L484.12,63.20 L484.18,64.20 L484.24,65.20 L484.28,66.20 L484.33,67.20 L484.36,68.20 L484.40,69.20 L484.42,70.20 L484.45,71.20 L484.46,72.20 L484.48,73.20 L484.48,74.20 L484.49,75.20 L484.49,76.20 L484.49,77.20 L484.48,78.20 L484.48,79.20 L484.47,80.20 L484.45,81.20 L484.44,82.20 L484.42,83.20 L484.40,84.20 L484.38,85.20 L484.35,86.20 L484.33,87.20 L484.31,88.20 L484.28,89.20 L484.26,90.20 L484.23,91.20 L484.20,92.20 L484.18,93.20 L484.15,94.20 L484.13,95.20 L484.10,96.20 L484.08,97.20 L484.06,98.20 L484.04,99.20 L484.02,100.20 L484.01,101.20 L483.99,102.20 L483.98,103.20 L483.97,104.20 L483.97,105.20 L483.97,106.20 L483.97,107.20 L483.97,108.20 L483.98,109.20 L484.00,110.20 L484.01,111.20 L484.04,112.20 L484.06,113.20 L484.10,114.20 L484.13,115.20 L484.17,116.20 L484.21,117.20 L484.26,118.20 L484.31,119.20 L484.36,120.20 L484.42,121.20 L484.48,122.20 L484.54,123.20 L484.61,124.20 L484.68,125.20 L484.75,126.20 L484.82,127.20 L484.90,128.20 L484.97,129.20 L485.05,130.20 L485.13,131.20 L485.21,132.20 L485.29,133.20 L485.38,134.20 L485.46,135.20 L485.55,136.20 L485.63,137.20 L485.72,138.20 L485.80,139.20 L485.89,140.20 L485.97,141.20 L486.06,142.20 L486.14,143.20 L486.23,144.20 L486.31,145.20 L486.39,146.20 L486.47,147.20 L486.55,148.20 L486.63,149.20 L486.71,150.20 L486.78,151.20 L486.85,152.20 L486.92,153.20 L486.99,154.20 L487.06,155.20 L487.13,156.20 L487.19,157.20 L487.25,158.20 L487.32,159.20 L487.38,160.20 L487.44,161.20 L487.50,162.20 L487.56,163.20 L487.62,164.20 L487.68,165.20 L487.74,166.20 L487.80,167.20 L487.86,168.20 L487.92,169.20 L487.98,170.20 L488.04,171.20 L488.11,172.20 L488.17,173.20 L488.23,174.20 L488.30,175.20 L488.37,176.20 L488.44,177.20 L488.51,178.20 L488.58,179.20 L488.65,180.20 L488.73,181.20 L488.81,182.20 L488.89,183.20 L488.97,184.20 L489.06,185.20 L489.15,186.20 L489.24,187.20 L489.34,188.20 L489.44,189.20 L489.54,190.20 L489.65,191.20 L489.77,192.20 L489.89,193.20 L490.01,194.20 L490.14,195.20 L490.28,196.20 L490.42,197.20 L490.57,198.20 L490.72,199.20 L490.88,200.20 L491.05,201.20 L491.23,202.20 L491.41,203.20 L491.60,204.20 L491.80,205.20 L492.00,206.20 L492.22,207.20 L492.44,208.20 L492.67,209.20 L492.92,210.20 L493.17,211.20 L493.43,212.20 L493.70,213.20 L493.98,214.20 L494.27,215.20 L494.57,216.20 L494.88,217.20 L495.20,218.20 L495.53,219.20 L495.88,220.20 L496.24,221.20 L496.60,222.20 L496.98,223.20 L497.38,224.20 L497.78,225.20 L498.20,226.20 L498.63,227.20 L499.07,228.20 L499.52,229.20 L499.99,230.20 L500.47,231.20 L500.96,232.20 L501.47,233.20 L501.99,234.20 L502.52,235.20 L503.07,236.20 L503.63,237.20 L504.20,238.20 L504.78,239.20 L505.36,240.20 L505.94,241.20 L506.52,242.20 L507.09,243.20 L507.66,244.20 L508.21,245.20 L508.75,246.20 L509.28,247.20 L509.78,248.20 L510.26,249.20 L510.72,250.20 L511.14,251.20 L511.54,252.20 L511.90,253.20 L512.22,254.20 L512.50,255.20 L512.74,256.20 L512.93,257.20 L513.08,258.20 L513.17,259.20 L513.20,260.20 L513.18,261.20 L513.09,262.20 L512.94,263.20 L512.73,264.20 L512.50,265.00 L481.10,265.00 Z" fill="#C1BED6" stroke="#6d6d6d" stroke-width="1.35" stroke-linejoin="round"/>
<line x1="481.10" y1="201.30" x2="491.38" y2="201.30" stroke="#6d6d6d" stroke-width="1.35" stroke-dasharray="3.04,3.04"/>
<line x1="481.10" y1="249.70" x2="510.39" y2="249.70" stroke="#6d6d6d" stroke-width="1.35" stroke-dasharray="6.08,6.08"/>

<path d="M562.50,23.80 L556.40,23.80 L555.93,24.80 L555.60,25.80 L555.27,26.80 L554.92,27.80 L554.58,28.80 L554.22,29.80 L553.87,30.80 L553.51,31.80 L553.14,32.80 L552.77,33.80 L552.40,34.80 L552.03,35.80 L551.65,36.80 L551.26,37.80 L550.88,38.80 L550.49,39.80 L550.10,40.80 L549.71,41.80 L549.31,42.80 L548.92,43.80 L548.52,44.80 L548.12,45.80 L547.72,46.80 L547.32,47.80 L546.92,48.80 L546.52,49.80 L546.12,50.80 L545.72,51.80 L545.32,52.80 L544.92,53.80 L544.52,54.80 L544.12,55.80 L543.72,56.80 L543.32,57.80 L542.93,58.80 L542.53,59.80 L542.14,60.80 L541.75,61.80 L541.37,62.80 L540.98,63.80 L540.60,64.80 L540.23,65.80 L539.85,66.80 L539.48,67.80 L539.11,68.80 L538.75,69.80 L538.39,70.80 L538.04,71.80 L537.69,72.80 L537.35,73.80 L537.01,74.80 L536.67,75.80 L536.35,76.80 L536.02,77.80 L535.71,78.80 L535.40,79.80 L535.09,80.80 L534.80,81.80 L534.51,82.80 L534.23,83.80 L533.95,84.80 L533.68,85.80 L533.42,86.80 L533.17,87.80 L532.93,88.80 L532.69,89.80 L532.47,90.80 L532.25,91.80 L532.04,92.80 L531.84,93.80 L531.65,94.80 L531.47,95.80 L531.30,96.80 L531.15,97.80 L531.00,98.80 L530.86,99.80 L530.73,100.80 L530.62,101.80 L530.51,102.80 L530.42,103.80 L530.34,104.80 L530.27,105.80 L530.21,106.80 L530.16,107.80 L530.13,108.80 L530.11,109.80 L530.10,110.80 L530.11,111.80 L530.13,112.80 L530.16,113.80 L530.21,114.80 L530.27,115.80 L530.35,116.80 L530.44,117.80 L530.54,118.80 L530.66,119.80 L530.79,120.80 L530.94,121.80 L531.11,122.80 L531.29,123.80 L531.48,124.80 L531.69,125.80 L531.92,126.80 L532.15,127.80 L532.40,128.80 L532.66,129.80 L532.93,130.80 L533.20,131.80 L533.49,132.80 L533.79,133.80 L534.10,134.80 L534.41,135.80 L534.73,136.80 L535.06,137.80 L535.39,138.80 L535.72,139.80 L536.06,140.80 L536.41,141.80 L536.76,142.80 L537.11,143.80 L537.46,144.80 L537.82,145.80 L538.17,146.80 L538.53,147.80 L538.89,148.80 L539.26,149.80 L539.62,150.80 L539.98,151.80 L540.35,152.80 L540.71,153.80 L541.08,154.80 L541.44,155.80 L541.81,156.80 L542.17,157.80 L542.53,158.80 L542.89,159.80 L543.25,160.80 L543.61,161.80 L543.96,162.80 L544.31,163.80 L544.66,164.80 L545.00,165.80 L545.34,166.80 L545.68,167.80 L546.02,168.80 L546.35,169.80 L546.67,170.80 L546.99,171.80 L547.31,172.80 L547.62,173.80 L547.92,174.80 L548.22,175.80 L548.51,176.80 L548.79,177.80 L549.07,178.80 L549.35,179.80 L549.61,180.80 L549.87,181.80 L550.12,182.80 L550.36,183.80 L550.60,184.80 L550.83,185.80 L551.05,186.80 L551.26,187.80 L551.46,188.80 L551.65,189.80 L551.83,190.80 L552.01,191.80 L552.17,192.80 L552.33,193.80 L552.48,194.80 L552.61,195.80 L552.74,196.80 L552.85,197.80 L552.95,198.80 L553.04,199.80 L553.13,200.80 L553.20,201.80 L553.25,202.80 L553.30,203.80 L553.33,204.80 L553.35,205.80 L553.36,206.80 L553.36,207.80 L553.34,208.80 L553.31,209.80 L553.27,210.80 L553.21,211.80 L553.14,212.80 L553.06,213.80 L552.96,214.80 L552.84,215.80 L552.71,216.80 L552.57,217.80 L552.41,218.80 L552.24,219.80 L552.05,220.80 L551.84,221.80 L551.62,222.80 L551.38,223.80 L551.13,224.80 L550.86,225.80 L550.58,226.80 L550.28,227.80 L549.97,228.80 L549.65,229.80 L549.31,230.80 L548.97,231.80 L548.61,232.80 L548.25,233.80 L547.88,234.80 L547.50,235.80 L547.11,236.80 L546.72,237.80 L546.33,238.80 L545.93,239.80 L545.53,240.80 L545.13,241.80 L544.74,242.80 L544.35,243.80 L543.96,244.80 L543.58,245.80 L543.21,246.80 L542.86,247.80 L542.51,248.80 L542.18,249.80 L541.87,250.80 L541.58,251.80 L541.30,252.80 L541.05,253.80 L540.82,254.80 L540.62,255.80 L540.44,256.80 L540.30,257.80 L540.19,258.80 L540.11,259.80 L540.06,260.80 L540.05,261.80 L540.09,262.80 L540.16,263.80 L540.28,264.80 L540.31,265.00 L562.50,265.00 Z" fill="#EA8E83" stroke="#6d6d6d" stroke-width="1.35" stroke-linejoin="round"/>
<line x1="531.66" y1="96.60" x2="562.50" y2="96.60" stroke="#6d6d6d" stroke-width="1.35" stroke-dasharray="3.04,3.04"/>
<line x1="532.95" y1="131.30" x2="562.50" y2="131.30" stroke="#6d6d6d" stroke-width="1.35" stroke-dasharray="6.08,6.08"/>
<line x1="552.36" y1="220.40" x2="562.50" y2="220.40" stroke="#6d6d6d" stroke-width="1.35" stroke-dasharray="3.04,3.04"/>

<path d="M562.50,20.20 L566.70,20.20 L566.91,21.20 L567.16,22.20 L567.41,23.20 L567.64,24.20 L567.88,25.20 L568.11,26.20 L568.33,27.20 L568.55,28.20 L568.77,29.20 L568.98,30.20 L569.20,31.20 L569.41,32.20 L569.63,33.20 L569.84,34.20 L570.06,35.20 L570.28,36.20 L570.50,37.20 L570.72,38.20 L570.94,39.20 L571.18,40.20 L571.41,41.20 L571.65,42.20 L571.90,43.20 L572.16,44.20 L572.42,45.20 L572.69,46.20 L572.97,47.20 L573.25,48.20 L573.55,49.20 L573.86,50.20 L574.17,51.20 L574.50,52.20 L574.83,53.20 L575.16,54.20 L575.51,55.20 L575.86,56.20 L576.21,57.20 L576.58,58.20 L576.94,59.20 L577.32,60.20 L577.69,61.20 L578.08,62.20 L578.46,63.20 L578.85,64.20 L579.24,65.20 L579.63,66.20 L580.03,67.20 L580.43,68.20 L580.83,69.20 L581.23,70.20 L581.63,71.20 L582.03,72.20 L582.44,73.20 L582.84,74.20 L583.24,75.20 L583.64,76.20 L584.04,77.20 L584.43,78.20 L584.83,79.20 L585.22,80.20 L585.61,81.20 L585.99,82.20 L586.37,83.20 L586.75,84.20 L587.12,85.20 L587.49,86.20 L587.85,87.20 L588.21,88.20 L588.56,89.20 L588.90,90.20 L589.24,91.20 L589.57,92.20 L589.89,93.20 L590.20,94.20 L590.50,95.20 L590.80,96.20 L591.08,97.20 L591.36,98.20 L591.62,99.20 L591.87,100.20 L592.12,101.20 L592.35,102.20 L592.56,103.20 L592.77,104.20 L592.96,105.20 L593.13,106.20 L593.30,107.20 L593.44,108.20 L593.58,109.20 L593.69,110.20 L593.79,111.20 L593.88,112.20 L593.95,113.20 L594.00,114.20 L594.03,115.20 L594.04,116.20 L594.04,117.20 L594.02,118.20 L593.98,119.20 L593.93,120.20 L593.87,121.20 L593.78,122.20 L593.69,123.20 L593.58,124.20 L593.46,125.20 L593.33,126.20 L593.19,127.20 L593.03,128.20 L592.87,129.20 L592.69,130.20 L592.51,131.20 L592.32,132.20 L592.12,133.20 L591.92,134.20 L591.71,135.20 L591.49,136.20 L591.27,137.20 L591.04,138.20 L590.81,139.20 L590.57,140.20 L590.34,141.20 L590.10,142.20 L589.86,143.20 L589.61,144.20 L589.37,145.20 L589.13,146.20 L588.89,147.20 L588.65,148.20 L588.41,149.20 L588.18,150.20 L587.94,151.20 L587.70,152.20 L587.47,153.20 L587.24,154.20 L587.00,155.20 L586.77,156.20 L586.54,157.20 L586.31,158.20 L586.08,159.20 L585.85,160.20 L585.62,161.20 L585.39,162.20 L585.16,163.20 L584.93,164.20 L584.70,165.20 L584.47,166.20 L584.24,167.20 L584.02,168.20 L583.79,169.20 L583.56,170.20 L583.33,171.20 L583.10,172.20 L582.87,173.20 L582.64,174.20 L582.41,175.20 L582.18,176.20 L581.95,177.20 L581.72,178.20 L581.49,179.20 L581.26,180.20 L581.03,181.20 L580.79,182.20 L580.56,183.20 L580.33,184.20 L580.09,185.20 L579.85,186.20 L579.62,187.20 L579.38,188.20 L579.14,189.20 L578.90,190.20 L578.66,191.20 L578.42,192.20 L578.18,193.20 L577.95,194.20 L577.72,195.20 L577.49,196.20 L577.27,197.20 L577.05,198.20 L576.84,199.20 L576.64,200.20 L576.44,201.20 L576.25,202.20 L576.07,203.20 L575.89,204.20 L575.73,205.20 L575.58,206.20 L575.44,207.20 L575.31,208.20 L575.19,209.20 L575.09,210.20 L575.00,211.20 L574.93,212.20 L574.87,213.20 L574.82,214.20 L574.80,215.20 L574.79,216.20 L574.79,217.20 L574.82,218.20 L574.87,219.20 L574.93,220.20 L575.02,221.20 L575.13,222.20 L575.25,223.20 L575.40,224.20 L575.56,225.20 L575.75,226.20 L575.95,227.20 L576.17,228.20 L576.40,229.20 L576.65,230.20 L576.92,231.20 L577.20,232.20 L577.50,233.20 L577.82,234.20 L578.14,235.20 L578.49,236.20 L578.84,237.20 L579.21,238.20 L579.58,239.20 L579.97,240.20 L580.36,241.20 L580.76,242.20 L581.16,243.20 L581.56,244.20 L581.96,245.20 L582.35,246.20 L582.75,247.20 L583.13,248.20 L583.51,249.20 L583.88,250.20 L584.23,251.20 L584.57,252.20 L584.89,253.20 L585.19,254.20 L585.46,255.20 L585.71,256.20 L585.94,257.20 L586.13,258.20 L586.30,259.20 L586.42,260.20 L586.52,261.20 L586.57,262.20 L586.58,263.20 L586.55,264.20 L586.49,265.00 L562.50,265.00 Z" fill="#C1BED6" stroke="#6d6d6d" stroke-width="1.35" stroke-linejoin="round"/>
<line x1="562.50" y1="104.30" x2="592.72" y2="104.30" stroke="#6d6d6d" stroke-width="1.35" stroke-dasharray="3.04,3.04"/>
<line x1="562.50" y1="145.10" x2="589.02" y2="145.10" stroke="#6d6d6d" stroke-width="1.35" stroke-dasharray="6.08,6.08"/>
<line x1="562.50" y1="225.90" x2="575.36" y2="225.90" stroke="#6d6d6d" stroke-width="1.35" stroke-dasharray="3.04,3.04"/>

<rect x="32.9" y="0.3" width="570.40" height="277.00" fill="none" stroke="#000" stroke-width="0.9"/>
<line x1="29.75" y1="265.00" x2="32.90" y2="265.00" stroke="#000" stroke-width="0.9"/>
<line x1="29.75" y1="214.64" x2="32.90" y2="214.64" stroke="#000" stroke-width="0.9"/>
<line x1="29.75" y1="164.28" x2="32.90" y2="164.28" stroke="#000" stroke-width="0.9"/>
<line x1="29.75" y1="113.92" x2="32.90" y2="113.92" stroke="#000" stroke-width="0.9"/>
<line x1="29.75" y1="63.56" x2="32.90" y2="63.56" stroke="#000" stroke-width="0.9"/>
<line x1="29.75" y1="13.20" x2="32.90" y2="13.20" stroke="#000" stroke-width="0.9"/>
<line x1="73.60" y1="277.30" x2="73.60" y2="280.45" stroke="#000" stroke-width="0.9"/>
<line x1="155.10" y1="277.30" x2="155.10" y2="280.45" stroke="#000" stroke-width="0.9"/>
<line x1="236.60" y1="277.30" x2="236.60" y2="280.45" stroke="#000" stroke-width="0.9"/>
<line x1="318.10" y1="277.30" x2="318.10" y2="280.45" stroke="#000" stroke-width="0.9"/>
<line x1="399.60" y1="277.30" x2="399.60" y2="280.45" stroke="#000" stroke-width="0.9"/>
<line x1="481.10" y1="277.30" x2="481.10" y2="280.45" stroke="#000" stroke-width="0.9"/>
<line x1="562.60" y1="277.30" x2="562.60" y2="280.45" stroke="#000" stroke-width="0.9"/>
<rect x="636.3" y="5.5" width="125.6" height="41.9" rx="1.8" fill="#fff" fill-opacity="0.8" stroke="#cccccc" stroke-width="0.72"/>
<rect x="640.1" y="22.4" width="18.3" height="6.3" fill="#EA8E83" stroke="#6d6d6d" stroke-width="0.68"/>
<rect x="640.1" y="35.4" width="18.3" height="6.3" fill="#C1BED6" stroke="#6d6d6d" stroke-width="0.68"/>
<g fill="#000" stroke="#000" stroke-width="0.08" style="opacity:0.999" text-rendering="geometricPrecision">
<text x="26.60" y="268.40" font-family="'Liberation Sans', sans-serif" font-size="9.3" text-anchor="end" textLength="14.31" lengthAdjust="spacingAndGlyphs">0.0</text>
<text x="26.60" y="218.04" font-family="'Liberation Sans', sans-serif" font-size="9.3" text-anchor="end" textLength="14.31" lengthAdjust="spacingAndGlyphs">0.2</text>
<text x="26.60" y="167.68" font-family="'Liberation Sans', sans-serif" font-size="9.3" text-anchor="end" textLength="14.31" lengthAdjust="spacingAndGlyphs">0.4</text>
<text x="26.60" y="117.32" font-family="'Liberation Sans', sans-serif" font-size="9.3" text-anchor="end" textLength="14.31" lengthAdjust="spacingAndGlyphs">0.6</text>
<text x="26.60" y="66.96" font-family="'Liberation Sans', sans-serif" font-size="9.3" text-anchor="end" textLength="14.31" lengthAdjust="spacingAndGlyphs">0.8</text>
<text x="26.60" y="16.60" font-family="'Liberation Sans', sans-serif" font-size="9.3" text-anchor="end" textLength="14.31" lengthAdjust="spacingAndGlyphs">1.0</text>
<text transform="translate(72.65,289.80) rotate(-45)" font-family="'Liberation Sans', sans-serif" font-size="9.3" text-anchor="end" textLength="46.63" lengthAdjust="spacingAndGlyphs">DiffDock-L</text>
<text transform="translate(154.15,289.80) rotate(-45)" font-family="'Liberation Sans', sans-serif" font-size="9.3" text-anchor="end" textLength="59.78" lengthAdjust="spacingAndGlyphs">DynamicBind</text>
<text transform="translate(235.65,289.80) rotate(-45)" font-family="'Liberation Sans', sans-serif" font-size="9.3" text-anchor="end" textLength="59.64" lengthAdjust="spacingAndGlyphs">NeuralPLexer</text>
<text transform="translate(317.15,289.80) rotate(-45)" font-family="'Liberation Sans', sans-serif" font-size="9.3" text-anchor="end" textLength="97.50" lengthAdjust="spacingAndGlyphs">RoseTTAFold-All-Atom</text>
<text transform="translate(398.65,289.80) rotate(-45)" font-family="'Liberation Sans', sans-serif" font-size="9.3" text-anchor="end" textLength="25.18" lengthAdjust="spacingAndGlyphs">TULIP</text>
<text transform="translate(480.15,289.80) rotate(-45)" font-family="'Liberation Sans', sans-serif" font-size="9.3" text-anchor="end" textLength="68.86" lengthAdjust="spacingAndGlyphs">DiffDock-L-Vina</text>
<text transform="translate(561.65,289.80) rotate(-45)" font-family="'Liberation Sans', sans-serif" font-size="9.3" text-anchor="end" textLength="71.51" lengthAdjust="spacingAndGlyphs">Ensemble (Con)</text>
<text x="318.10" y="369.64" font-family="'Liberation Sans', sans-serif" font-size="9.3" text-anchor="middle" textLength="136.44" lengthAdjust="spacingAndGlyphs">Multi-ligand blind docking (all)</text>
<text transform="translate(6.80,140.30) rotate(-90)" font-family="'Liberation Sans', sans-serif" font-size="9.3" text-anchor="middle" textLength="37.38" lengthAdjust="spacingAndGlyphs">lDDT-PLI</text>
<text x="663.90" y="15.10" font-family="'Liberation Sans', sans-serif" font-size="9.3" text-anchor="start" textLength="70.57" lengthAdjust="spacingAndGlyphs">Post-processing</text>
<text x="665.70" y="28.50" font-family="'Liberation Sans', sans-serif" font-size="9.3" text-anchor="start" textLength="22.45" lengthAdjust="spacingAndGlyphs">none</text>
<text x="665.70" y="41.90" font-family="'Liberation Sans', sans-serif" font-size="9.3" text-anchor="start" textLength="92.44" lengthAdjust="spacingAndGlyphs">energy minimization</text>
</g>
</svg>
</body></html>
